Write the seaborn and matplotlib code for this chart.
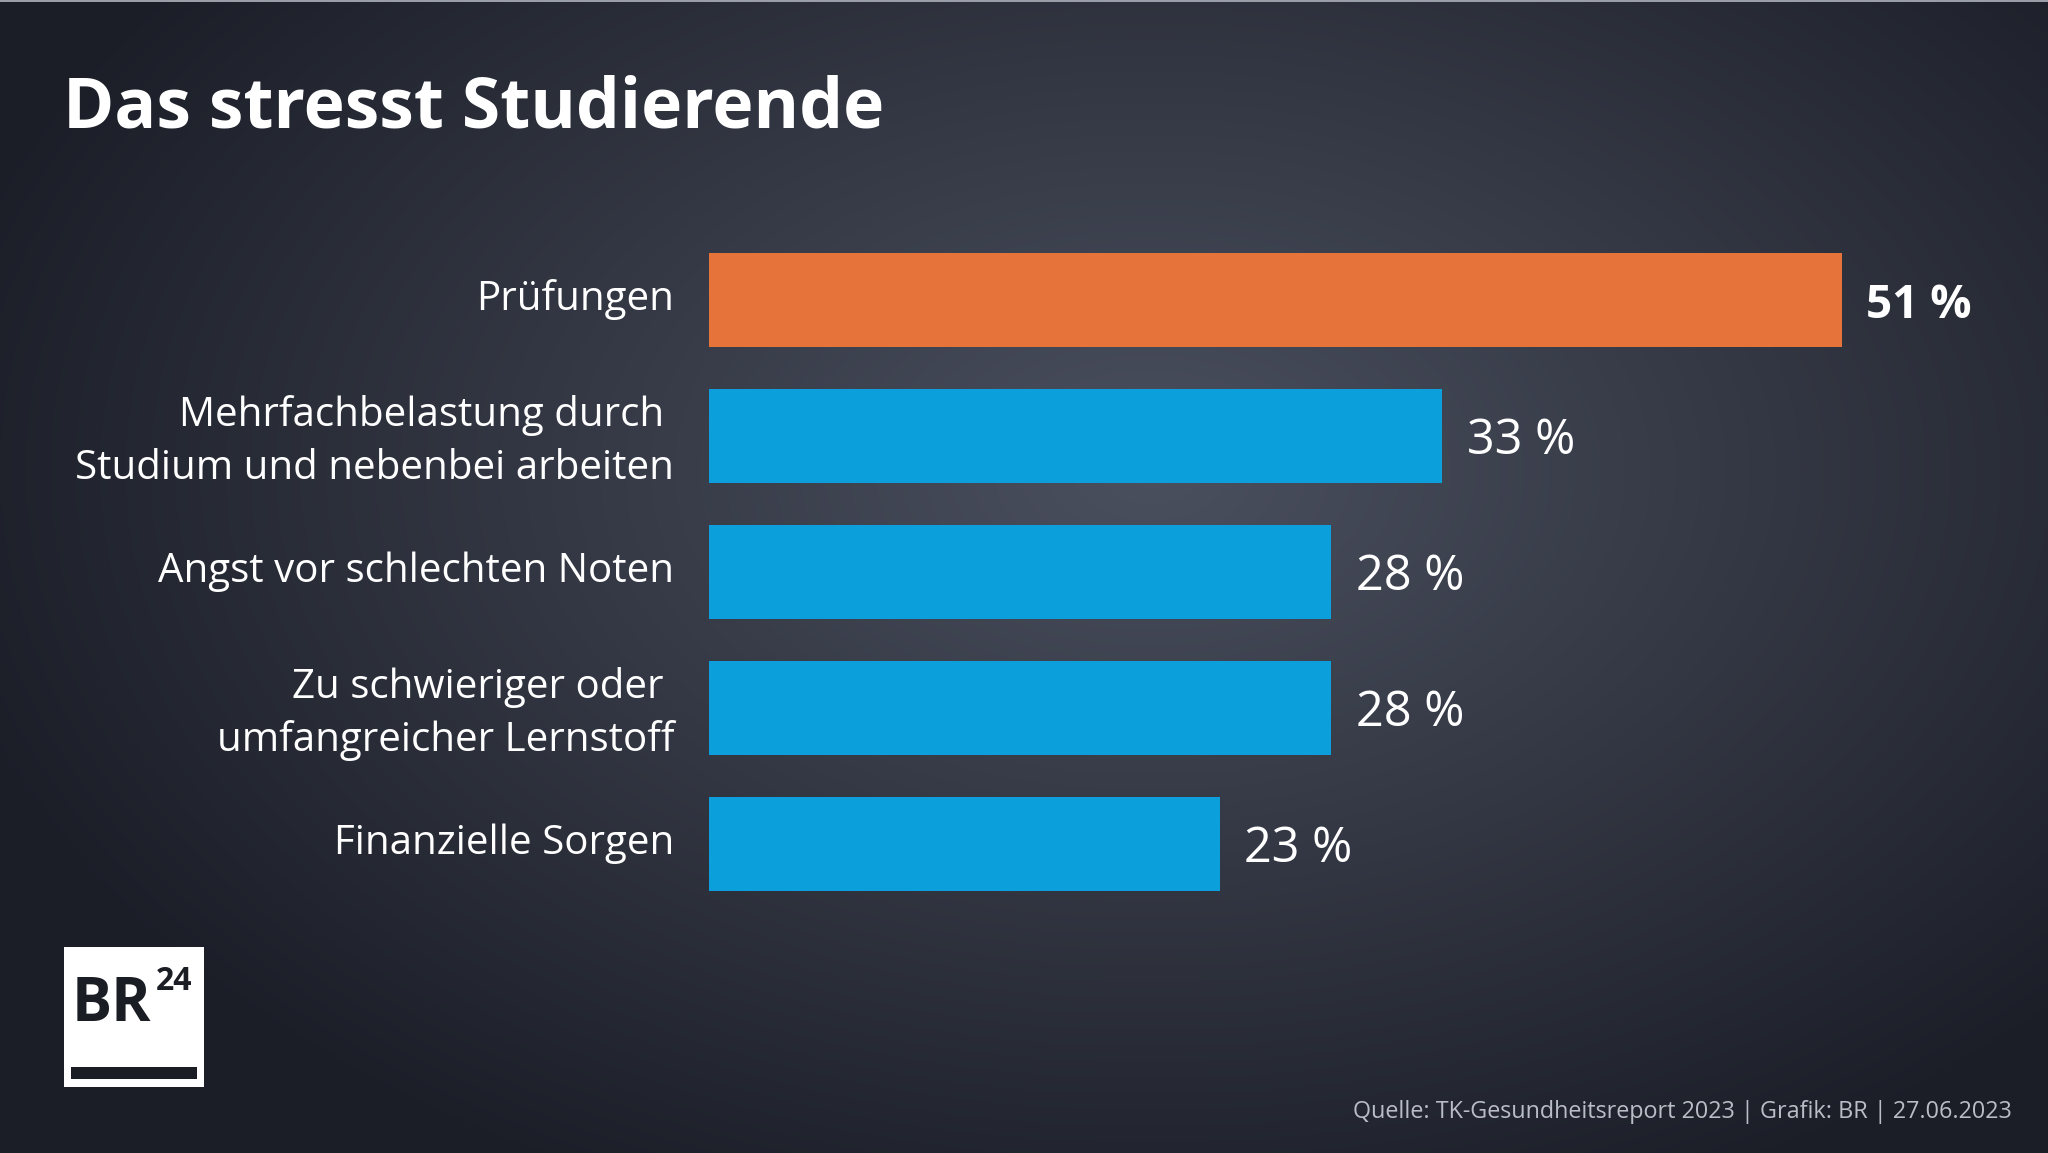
import numpy as np
import pandas as pd
import seaborn as sns
import matplotlib.pyplot as plt
import matplotlib.transforms as mtransforms
from matplotlib.patches import Rectangle

# Daten
kategorien = [
    "Prüfungen",
    "Mehrfachbelastung durch \nStudium und nebenbei arbeiten",
    "Angst vor schlechten Noten",
    "Zu schwieriger oder \numfangreicher Lernstoff",
    "Finanzielle Sorgen",
]
werte = [51, 33, 28, 28, 23]
farben = ["#E5733A", "#0BA0DB", "#0BA0DB", "#0BA0DB", "#0BA0DB"]

df = pd.DataFrame({"Kategorie": kategorien, "Wert": werte})

sns.set_theme(style="white")
plt.rcParams["font.family"] = ["Open Sans", "DejaVu Sans"]

W, H = 2048, 1153
fig = plt.figure(figsize=(W / 100, H / 100), dpi=100)

# Hintergrund mit radialem Verlauf
bg = fig.add_axes([0, 0, 1, 1], zorder=-10)
yy, xx = np.mgrid[0:H, 0:W]
d = np.sqrt(((xx - 1150) / 1250) ** 2 + ((yy - 470) / 800) ** 2)
d = np.clip(d, 0, 1)
hell = np.array([0x4B, 0x50, 0x5F]) / 255
dunkel = np.array([0x1B, 0x1E, 0x27]) / 255
img = hell[None, None, :] * (1 - d[..., None]) + dunkel[None, None, :] * d[..., None]
bg.imshow(img, aspect="auto", extent=[0, W, H, 0])
bg.set_xlim(0, W)
bg.set_ylim(H, 0)
bg.axis("off")
bg.add_patch(Rectangle((0, 0), W, 2, color="#9a9ea8", lw=0))

# Balken
ax = fig.add_axes([709 / W, 1 - 912 / H, 1333 / W, 680 / H])
sns.barplot(data=df, x="Wert", y="Kategorie", hue="Kategorie", palette=farben,
            legend=False, width=0.69, saturation=1, linewidth=0, ax=ax)
ax.set_xlim(0, 60)
ax.set_ylim(4.5, -0.5)
ax.patch.set_alpha(0)
for s in ax.spines.values():
    s.set_visible(False)
ax.set_xticks([])
ax.set_xlabel("")
ax.set_ylabel("")
ax.tick_params(axis="y", length=0, pad=25, labelsize=29, labelcolor="white")
hoch = mtransforms.ScaledTranslation(0, 5 / 100, fig.dpi_scale_trans)
for lbl in ax.get_yticklabels():
    lbl.set_linespacing(1.4)
    lbl.set_transform(lbl.get_transform() + hoch)

for i, v in enumerate(werte):
    ax.text(v + 1.1, i + 0.04, f"{v} %", va="center", ha="left", color="white",
            fontsize=33 if i == 0 else 35,
            fontweight="bold" if i == 0 else "normal")

# Titel
fig.text(63 / W, 1 - 127 / H, "Das stresst Studierende", color="white",
         fontsize=50, fontweight="bold", va="baseline", ha="left")

# Quelle
fig.text(2012 / W, 1 - 1118 / H,
         "Quelle: TK-Gesundheitsreport 2023 | Grafik: BR | 27.06.2023",
         color="#b9bdc6", fontsize=16.8, ha="right", va="baseline")

# Logo
bg.add_patch(Rectangle((64, 947), 140, 140, color="white", lw=0))
bg.add_patch(Rectangle((71, 1067), 126, 12, color="#1b1d24", lw=0))
bg.text(72, 1021, "BR", color="#1b1d24", fontsize=43,
        fontweight="bold", va="baseline", ha="left")
bg.text(156, 990, "24", color="#1b1d24", fontsize=23,
        fontweight="bold", va="baseline", ha="left")

fig.savefig("out.png", dpi=100)
